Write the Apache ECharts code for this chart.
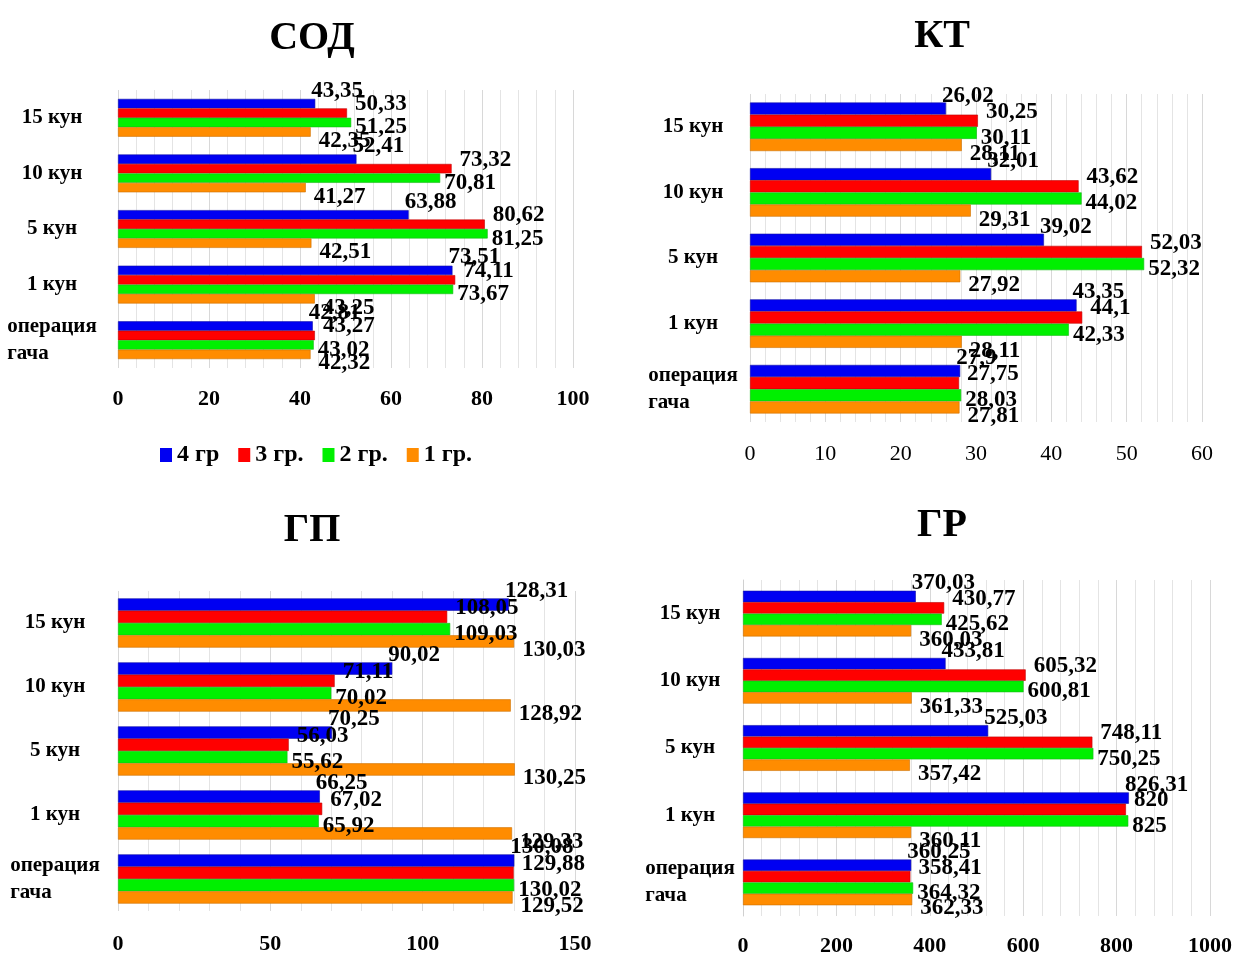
<!DOCTYPE html>
<html>
<head>
<meta charset="utf-8">
<script src="https://cdn.jsdelivr.net/npm/echarts@6/dist/echarts.min.js"></script>
<style>
html,body{margin:0;padding:0;background:#fff;}
#chart{width:1235px;height:957px;}
</style>
</head>
<body>
<div id="chart"></div>
<script>
// ---- data ----
const categories = ['операция\nгача', '1 кун', '5 кун', '10 кун', '15 кун'];
const seriesNames = ['4 гр', '3 гр.', '2 гр.', '1 гр.'];
const panelTitles = ['СОД', 'КТ', 'ГП', 'ГР'];

const sod_4 = [42.81, 73.51, 63.88, 52.41, 43.35];
const sod_3 = [43.27, 74.11, 80.62, 73.32, 50.33];
const sod_2 = [43.02, 73.67, 81.25, 70.81, 51.25];
const sod_1 = [42.32, 43.25, 42.51, 41.27, 42.35];

const kt_4 = [27.9, 43.35, 39.02, 32.01, 26.02];
const kt_3 = [27.75, 44.1, 52.03, 43.62, 30.25];
const kt_2 = [28.03, 42.33, 52.32, 44.02, 30.11];
const kt_1 = [27.81, 28.11, 27.92, 29.31, 28.11];

const gp_4 = [130.08, 66.25, 70.25, 90.02, 128.31];
const gp_3 = [129.88, 67.02, 56.03, 71.11, 108.05];
const gp_2 = [130.02, 65.92, 55.62, 70.02, 109.03];
const gp_1 = [129.52, 129.33, 130.25, 128.92, 130.03];

const gr_4 = [360.25, 826.31, 525.03, 433.81, 370.03];
const gr_3 = [358.41, 820, 748.11, 605.32, 430.77];
const gr_2 = [364.32, 825, 750.25, 600.81, 425.62];
const gr_1 = [362.33, 360.11, 357.42, 361.33, 360.03];

// axis ranges: [min, max, interval]
const sodAxis = [0, 100, 20];
const ktAxis = [0, 60, 10];
const gpAxis = [0, 150, 50];
const grAxis = [0, 1000, 200];

// ---- layout / style ----
const FONT = '"Liberation Serif", "Times New Roman", serif';
const colors = ['#0000f2', '#ff0000', '#00f000', '#ff8c00'];
const edgeColors = ['#1010a8', '#c00000', '#18b818', '#cc7000'];
const panelData = [
  [sod_4, sod_3, sod_2, sod_1],
  [kt_4, kt_3, kt_2, kt_1],
  [gp_4, gp_3, gp_2, gp_1],
  [gr_4, gr_3, gr_2, gr_1]
];
const axes = [sodAxis, ktAxis, gpAxis, grAxis];
const grids = [
  {left: 118, top: 90, width: 455, height: 278},
  {left: 750, top: 94, width: 452, height: 328},
  {left: 118, top: 591, width: 457, height: 320},
  {left: 743, top: 580, width: 469, height: 337}
];
const gaps = ['32%', '26%', '23%', '32%'];
const yMargins = [66, 57, 63, 53];
const xMargins = [20, 21, 22, 19];
const tickWeight = ['bold', 'normal', 'bold', 'bold'];
const titlePos = [[312, 39], [942, 37], [312, 531], [942, 526]];
const labelOffsets = [[-8, -13], [4, -9], [0, 5], [4, 9]];

const fmt = v => String(v).replace('.', ',');

const option = {
  animation: false,
  backgroundColor: '#fff',
  legend: {
    data: seriesNames,
    left: 155,
    top: 438,
    icon: 'rect',
    itemWidth: 12,
    itemHeight: 14,
    itemGap: 19,
    itemStyle: {borderWidth: 0},
    textStyle: {fontFamily: FONT, fontWeight: 'bold', fontSize: 24, color: '#000'}
  },
  graphic: panelTitles.map((t, i) => ({
    type: 'text',
    x: titlePos[i][0],
    y: titlePos[i][1],
    style: {
      text: t, align: 'center', verticalAlign: 'middle',
      font: 'bold 40px ' + FONT, fill: '#000'
    }
  })),
  grid: grids,
  xAxis: axes.map((a, i) => ({
    type: 'value', gridIndex: i,
    min: a[0], max: a[1], interval: a[2],
    axisLine: {show: false},
    axisTick: {show: false},
    splitLine: {show: true, lineStyle: {color: '#d8d8d8', width: 1}},
    minorTick: {show: false, splitNumber: 5},
    minorSplitLine: {show: true, lineStyle: {color: '#e4e4e4', width: 1}},
    axisLabel: {
      margin: xMargins[i], color: '#000', fontFamily: FONT,
      fontWeight: tickWeight[i], fontSize: 22,
      formatter: v => String(v)
    }
  })),
  yAxis: axes.map((a, i) => ({
    type: 'category', gridIndex: i, data: categories,
    axisLine: {show: i === 3, lineStyle: {color: '#d0d0d0'}},
    axisTick: {show: false},
    axisLabel: {
      margin: yMargins[i], align: 'center', color: '#000',
      fontFamily: FONT, fontWeight: 'bold', fontSize: 21,
      formatter: v => v.split('\n').map(s => '{l|' + s + '}').join('\n'),
      rich: {
        l: {align: 'left', fontFamily: FONT, fontWeight: 'bold', fontSize: 21, lineHeight: 27, color: '#000'}
      }
    }
  })),
  series: []
};

panelData.forEach((group, p) => {
  group.forEach((vals, s) => {
    option.series.push({
      type: 'bar',
      name: seriesNames[s],
      xAxisIndex: p, yAxisIndex: p,
      data: vals,
      barGap: '0%',
      barCategoryGap: gaps[p],
      itemStyle: {color: colors[s], borderColor: edgeColors[s], borderWidth: 0.6},
      label: {
        show: true, position: 'right', distance: 4,
        offset: labelOffsets[s],
        formatter: prm => fmt(prm.value),
        fontFamily: FONT, fontWeight: 'bold', fontSize: 23, color: '#000'
      }
    });
  });
});

const chart = echarts.init(document.getElementById('chart'), null, {renderer: 'canvas'});
chart.setOption(option);
</script>
</body>
</html>
